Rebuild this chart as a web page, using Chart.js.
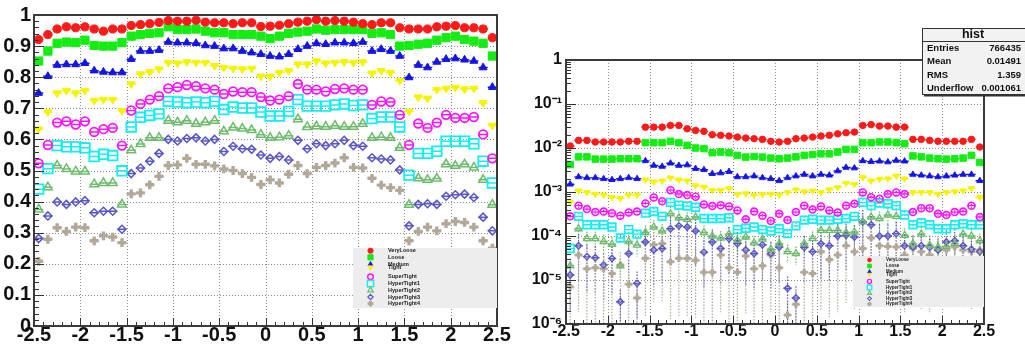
<!DOCTYPE html>
<html>
<head>
<meta charset="utf-8">
<script src="https://cdn.jsdelivr.net/npm/chart.js@4.4.1/dist/chart.umd.min.js"></script>
<style>
  html, body { margin: 0; padding: 0; background: #fff; }
  #wrap { position: relative; width: 1025px; height: 344px; overflow: hidden; }
  #effChart { position: absolute; left: 0; top: 0; }
  #fracChart { position: absolute; left: 520px; top: 0; }
</style>
</head>
<body>
<div id="wrap">
  <canvas id="effChart" width="520" height="344"></canvas>
  <canvas id="fracChart" width="505" height="344"></canvas>
</div>
<script>
// bin centres in eta
const etaBins = [
  -2.45, -2.35, -2.25, -2.15, -2.05, -1.95, -1.85, -1.75, -1.65, -1.55,
  -1.45, -1.35, -1.25, -1.15, -1.05, -0.95, -0.85, -0.75, -0.65, -0.55,
  -0.45, -0.35, -0.25, -0.15, -0.05, 0.05, 0.15, 0.25, 0.35, 0.45,
  0.55, 0.65, 0.75, 0.85, 0.95, 1.05, 1.15, 1.25, 1.35, 1.45,
  1.55, 1.65, 1.75, 1.85, 1.95, 2.05, 2.15, 2.25, 2.35, 2.45
];
const seriesNames = ['VeryLoose', 'Loose', 'Medium', 'Tight', 'SuperTight',
  'HyperTight1', 'HyperTight2', 'HyperTight3', 'HyperTight4'];

const xTicks = [-2.5, -2, -1.5, -1, -0.5, 0, 0.5, 1, 1.5, 2, 2.5];
const xTickLabels = ['-2.5', '-2', '-1.5', '-1', '-0.5', '0', '0.5', '1', '1.5', '2', '2.5'];
const effTicks = [0, 0.1, 0.2, 0.3, 0.4, 0.5, 0.6, 0.7, 0.8, 0.9, 1];
const effTickLabels = ['0', '0.1', '0.2', '0.3', '0.4', '0.5', '0.6', '0.7', '0.8', '0.9', '1'];
const fracTicks = [1e-6, 1e-5, 1e-4, 1e-3, 1e-2, 1e-1, 1];
const fracTickLabels = ['10⁻⁶', '10⁻⁵', '10⁻⁴', '10⁻³', '10⁻²', '10⁻¹', '1'];

const statTitle = 'hist';
const statLabels = ['Entries', 'Mean', 'RMS', 'Underflow'];
const statValues = ['766435', '0.01491', '1.359', '0.001061'];

// left pad: efficiencies
const effVeryLoose = [
  0.921, 0.937, 0.955, 0.962, 0.959, 0.962, 0.955, 0.948, 0.955, 0.955,
  0.966, 0.969, 0.972, 0.976, 0.982, 0.980, 0.980, 0.983, 0.977, 0.975,
  0.975, 0.972, 0.975, 0.975, 0.963, 0.964, 0.967, 0.972, 0.977, 0.980,
  0.985, 0.980, 0.982, 0.980, 0.977, 0.972, 0.969, 0.975, 0.975, 0.959,
  0.955, 0.955, 0.955, 0.962, 0.964, 0.966, 0.959, 0.959, 0.955, 0.927
];
const effLoose = [
  0.852, 0.884, 0.909, 0.913, 0.911, 0.919, 0.902, 0.900, 0.900, 0.911,
  0.932, 0.937, 0.941, 0.943, 0.962, 0.953, 0.953, 0.955, 0.948, 0.943,
  0.943, 0.937, 0.937, 0.937, 0.932, 0.924, 0.932, 0.941, 0.945, 0.948,
  0.955, 0.951, 0.953, 0.953, 0.953, 0.953, 0.941, 0.943, 0.937, 0.900,
  0.902, 0.906, 0.909, 0.919, 0.927, 0.932, 0.921, 0.916, 0.909, 0.868
];
const effMedium = [
  0.749, 0.803, 0.839, 0.841, 0.841, 0.845, 0.821, 0.817, 0.815, 0.815,
  0.858, 0.884, 0.884, 0.887, 0.913, 0.911, 0.911, 0.909, 0.902, 0.900,
  0.892, 0.892, 0.884, 0.879, 0.874, 0.868, 0.866, 0.874, 0.890, 0.900,
  0.909, 0.906, 0.911, 0.911, 0.909, 0.913, 0.884, 0.890, 0.884, 0.868,
  0.799, 0.839, 0.831, 0.849, 0.858, 0.860, 0.856, 0.852, 0.831, 0.768
];
const effTight = [
  0.633, 0.688, 0.749, 0.757, 0.749, 0.757, 0.725, 0.728, 0.728, 0.692,
  0.778, 0.810, 0.817, 0.826, 0.847, 0.845, 0.849, 0.847, 0.847, 0.837,
  0.831, 0.828, 0.826, 0.828, 0.803, 0.803, 0.815, 0.821, 0.842, 0.842,
  0.852, 0.845, 0.847, 0.849, 0.847, 0.849, 0.813, 0.821, 0.815, 0.789,
  0.690, 0.736, 0.732, 0.760, 0.764, 0.767, 0.762, 0.764, 0.718, 0.645
];
const effSuperTight = [
  0.523, 0.582, 0.654, 0.658, 0.648, 0.658, 0.624, 0.633, 0.637, 0.580,
  0.693, 0.714, 0.728, 0.739, 0.764, 0.768, 0.775, 0.771, 0.764, 0.760,
  0.746, 0.754, 0.752, 0.752, 0.736, 0.725, 0.728, 0.739, 0.778, 0.760,
  0.760, 0.754, 0.762, 0.764, 0.760, 0.760, 0.711, 0.722, 0.720, 0.679,
  0.582, 0.651, 0.637, 0.654, 0.679, 0.669, 0.669, 0.672, 0.616, 0.539
];
const effHyperTight1 = [
  0.440, 0.506, 0.580, 0.576, 0.576, 0.573, 0.545, 0.552, 0.548, 0.499,
  0.640, 0.671, 0.677, 0.682, 0.722, 0.720, 0.718, 0.720, 0.718, 0.722,
  0.696, 0.704, 0.701, 0.701, 0.688, 0.675, 0.675, 0.690, 0.728, 0.707,
  0.707, 0.707, 0.711, 0.714, 0.709, 0.711, 0.667, 0.672, 0.672, 0.640,
  0.485, 0.555, 0.555, 0.562, 0.594, 0.594, 0.594, 0.586, 0.530, 0.460
];
const effHyperTight2 = [
  0.375, 0.446, 0.516, 0.505, 0.497, 0.497, 0.456, 0.460, 0.460, 0.391,
  0.565, 0.585, 0.605, 0.605, 0.660, 0.655, 0.660, 0.650, 0.655, 0.660,
  0.626, 0.638, 0.635, 0.630, 0.615, 0.605, 0.607, 0.612, 0.665, 0.640,
  0.642, 0.641, 0.644, 0.641, 0.641, 0.650, 0.605, 0.607, 0.605, 0.573,
  0.390, 0.475, 0.470, 0.474, 0.520, 0.515, 0.520, 0.510, 0.470, 0.390
];
const effHyperTight3 = [
  0.281, 0.354, 0.399, 0.391, 0.399, 0.403, 0.364, 0.369, 0.369, 0.311,
  0.490, 0.508, 0.530, 0.555, 0.600, 0.595, 0.603, 0.605, 0.595, 0.600,
  0.561, 0.578, 0.570, 0.568, 0.550, 0.539, 0.545, 0.534, 0.597, 0.570,
  0.586, 0.580, 0.586, 0.597, 0.580, 0.578, 0.541, 0.537, 0.534, 0.502,
  0.322, 0.391, 0.393, 0.391, 0.417, 0.422, 0.424, 0.413, 0.350, 0.306
];
const effHyperTight4 = [
  0.208, 0.279, 0.316, 0.304, 0.318, 0.316, 0.274, 0.290, 0.286, 0.268,
  0.425, 0.428, 0.454, 0.481, 0.516, 0.518, 0.539, 0.520, 0.520, 0.515,
  0.505, 0.500, 0.490, 0.478, 0.455, 0.470, 0.460, 0.488, 0.516, 0.490,
  0.510, 0.516, 0.524, 0.541, 0.510, 0.508, 0.475, 0.453, 0.445, 0.436,
  0.274, 0.304, 0.318, 0.306, 0.329, 0.336, 0.333, 0.318, 0.274, 0.250
];

// right pad: fractions (log scale)
const fracVeryLoose = [
  0.0111, 0.0149, 0.0149, 0.0137, 0.0137, 0.0137, 0.0137, 0.0142, 0.0142, 0.0298,
  0.0298, 0.0298, 0.0326, 0.0326, 0.0274, 0.0251, 0.0239, 0.0200, 0.0194, 0.0187,
  0.0177, 0.0168, 0.0163, 0.0157, 0.0142, 0.0137, 0.0142, 0.0163, 0.0168, 0.0177,
  0.0187, 0.0194, 0.0210, 0.0222, 0.0230, 0.0326, 0.0340, 0.0315, 0.0315, 0.0298,
  0.0298, 0.0157, 0.0157, 0.0149, 0.0142, 0.0142, 0.0142, 0.0142, 0.0157, 0.0105
];
const fracLoose = [
  0.0042, 0.0063, 0.0063, 0.0056, 0.0056, 0.0056, 0.0057, 0.0057, 0.0057, 0.0132,
  0.0132, 0.0132, 0.0142, 0.0132, 0.0115, 0.0100, 0.0097, 0.0078, 0.0081, 0.0078,
  0.0068, 0.0062, 0.0064, 0.0062, 0.0059, 0.0057, 0.0059, 0.0063, 0.0068, 0.0071,
  0.0074, 0.0074, 0.0081, 0.0093, 0.0093, 0.0132, 0.0132, 0.0137, 0.0137, 0.0132,
  0.0125, 0.0066, 0.0063, 0.0059, 0.0057, 0.0056, 0.0057, 0.0059, 0.0068, 0.0047
];
const fracMedium = [
  0.0015, 0.0022, 0.0021, 0.0021, 0.0020, 0.0019, 0.0020, 0.0021, 0.0020, 0.0051,
  0.0040, 0.0038, 0.0045, 0.0040, 0.0041, 0.0034, 0.0032, 0.0026, 0.0027, 0.0029,
  0.0022, 0.0022, 0.0023, 0.0021, 0.0020, 0.0018, 0.0021, 0.0023, 0.0025, 0.0023,
  0.0025, 0.0024, 0.0030, 0.0036, 0.0035, 0.0051, 0.0049, 0.0050, 0.0048, 0.0052,
  0.0050, 0.0025, 0.0024, 0.0023, 0.0022, 0.0023, 0.0024, 0.0025, 0.0025, 0.0018
];
const fracTight = [
  0.00058, 0.00107, 0.00098, 0.00090, 0.00086, 0.00076, 0.00072, 0.00086, 0.00086, 0.0019,
  0.0017, 0.0018, 0.0021, 0.0019, 0.0018, 0.0014, 0.0013, 0.0011, 0.0011, 0.0012,
  0.00088, 0.00092, 0.00085, 0.00088, 0.00090, 0.00086, 0.00098, 0.00113, 0.00102, 0.00107,
  0.00098, 0.00113, 0.00127, 0.0016, 0.0015, 0.00214, 0.0018, 0.00196, 0.0020, 0.00233,
  0.0020, 0.00098, 0.00098, 0.00098, 0.00090, 0.00098, 0.00102, 0.00107, 0.00121, 0.00076
];
const fracSuperTight = [
  0.00028, 0.00049, 0.00041, 0.00035, 0.00036, 0.00033, 0.00029, 0.00034, 0.00036, 0.00055,
  0.00075, 0.00062, 0.0011, 0.0009, 0.00085, 0.00078, 0.00052, 0.00048, 0.00050, 0.00047,
  0.00038, 0.00024, 0.00036, 0.00029, 0.00022, 0.00032, 0.00023, 0.00035, 0.00049, 0.00040,
  0.00047, 0.00038, 0.00034, 0.00049, 0.00054, 0.00098, 0.00076, 0.00070, 0.00090, 0.00098,
  0.00090, 0.00035, 0.00043, 0.00043, 0.00032, 0.00030, 0.00035, 0.00036, 0.00049, 0.00027
];
const fracHyperTight1 = [
  0.000052, 0.00028, 0.00018, 0.00018, 0.00018, 0.00016, 0.00009, 0.00014, 0.00011, 0.00033,
  0.00036, 0.00028, 0.00058, 0.00050, 0.00048, 0.00045, 0.00025, 0.00025, 0.00025, 0.00026,
  0.00014, 0.00015, 0.00016, 0.00014, 0.00013, 0.000146, 0.000113, 0.00017, 0.00023, 0.00024,
  0.00023, 0.00023, 0.00024, 0.00025, 0.00028, 0.00058, 0.00049, 0.00056, 0.00054, 0.00049,
  0.00030, 0.00018, 0.00020, 0.00018, 0.000146, 0.000146, 0.00018, 0.00019, 0.00018, 0.00018
];
const fracHyperTight2 = [
  0.000021, 0.000146, 0.000087, 0.000087, 0.000075, 0.000065, 0.000021, 0.000075, 0.000062, 0.00012,
  0.00016, 0.00013, 0.00032, 0.00026, 0.00024, 0.00027, 0.00012, 0.00010, 0.00009, 0.00011,
  0.00008, 0.000095, 0.00007, 0.000085, 0.00005, 0.000067, 0.000044, 0.00004, 0.000067, 0.000087,
  0.000134, 0.000134, 0.000134, 0.00012, 0.000123, 0.00021, 0.00027, 0.00025, 0.00030, 0.00028,
  0.000104, 0.000067, 0.00011, 0.000061, 0.000056, 0.000058, 0.000067, 0.00011, 0.00010, 0.000078
];
const fracHyperTight3 = [
  0.000013, 0.00006, 0.000034, 0.000032, 0.000022, 0.000031, 0.0000032, 0.00004, 0.0000084, 0.000073,
  0.000048, 0.000052, 0.000146, 0.00017, 0.00016, 0.00013, 0.000043, 0.000073, 0.000052, 0.000087,
  0.000067, 0.000048, 0.00004, 0.000063, 0.00004, 0.000056, 0.0000065, 0.0000039, 0.000055, 0.000044,
  0.000067, 0.00006, 0.0001, 0.000104, 0.000095, 0.00021, 0.00018, 0.0001, 0.0001, 0.000113,
  0.00006, 0.000056, 0.00006, 0.000055, 0.000048, 0.000073, 0.000078, 0.00006, 0.00005, 0.000044
];
const fracHyperTight4 = [
  0.000007, 0.000037, 0.000018, 0.000019, 0.000018, 0.000014, 0.000022, 0.000008, 0.0000039, 0.000031,
  0.000063, 0.000067, 0.000026, 0.000031, 0.000031, 0.000028, 0.000015, 0.000015, 0.000037, 0.000019,
  0.000015, 0.000035, 0.000018, 0.000021, 0.000037, 0.000019, 0.0000016, 0.0000028, 0.000015, 0.000014,
  0.000044, 0.000029, 0.000037, 0.00006, 0.000044, 0.000052, 0.00009, 0.00006, 0.000058, 0.000056,
  0.000037, 0.000052, 0.000044, 0.000037, 0.000052, 0.000048, 0.000056, 0.000048, 0.000044, 0.000048
];

const effSeries = [effVeryLoose, effLoose, effMedium, effTight, effSuperTight,
  effHyperTight1, effHyperTight2, effHyperTight3, effHyperTight4];
const fracSeries = [fracVeryLoose, fracLoose, fracMedium, fracTight, fracSuperTight,
  fracHyperTight1, fracHyperTight2, fracHyperTight3, fracHyperTight4];

// marker look, ROOT style
const markers = [
  { color: '#ff1a1a', shape: 'circle', r: 4.1, filled: true, lw: 1 },
  { color: '#14ec14', shape: 'rect', r: 5.8, filled: true, lw: 1 },
  { color: '#1414e6', shape: 'triangle', r: 4.5, filled: true, lw: 1 },
  { color: '#f4f400', shape: 'triangle', rot: 180, r: 4.5, filled: true, lw: 1 },
  { color: '#ff14ff', shape: 'circle', r: 4.3, filled: false, lw: 1.8 },
  { color: '#14eeee', shape: 'rect', r: 6.8, filled: false, lw: 1.8 },
  { color: '#6cbc6c', shape: 'triangle', r: 5, filled: false, lw: 1.5 },
  { color: '#5a56c4', shape: 'rectRot', r: 4, filled: false, lw: 1.5 },
  { color: '#b2a898', shape: 'cross', r: 4.4, filled: false, lw: 3.4 }
];
const fracRelErr = [0, 0, 0, 0, 0.1, 0.2, 0.45, 0.85, 0.95];

const FONT = '"Liberation Sans", Arial, Helvetica, sans-serif';

function makeDatasets(series, scale, relErr) {
  return series.map((vals, k) => {
    const m = markers[k];
    return {
      label: seriesNames[k],
      data: vals.map((v, i) => ({ x: etaBins[i], y: v })),
      pointStyle: m.shape,
      pointRotation: m.rot || 0,
      pointRadius: m.r * scale,
      pointBorderWidth: m.lw * (scale < 1 ? 0.9 : 1),
      borderColor: m.color,
      backgroundColor: m.filled ? m.color : 'rgba(0,0,0,0)',
      showLine: false,
      relErr: relErr ? relErr[k] : 0
    };
  });
}

function drawLegend(chart, L) {
  const ctx = chart.ctx;
  ctx.save();
  ctx.fillStyle = '#ededed';
  ctx.fillRect(L.x0, L.y0, L.x1 - L.x0, L.y1 - L.y0);
  chart.data.datasets.forEach((ds, k) => {
    const y = L.rows[k];
    ctx.fillStyle = ds.backgroundColor;
    ctx.strokeStyle = ds.borderColor;
    ctx.lineWidth = ds.pointBorderWidth * 0.8;
    Chart.helpers.drawPoint(ctx, {
      pointStyle: ds.pointStyle, rotation: ds.pointRotation,
      radius: ds.pointRadius * L.markScale, borderWidth: ds.pointBorderWidth * 0.8
    }, L.markX, y);
    ctx.fillStyle = '#1a1a1a';
    ctx.font = L.font;
    ctx.textBaseline = 'middle';
    ctx.textAlign = 'left';
    ctx.fillText(ds.label, L.textX, y);
  });
  ctx.restore();
}

function drawStats(chart, S) {
  const ctx = chart.ctx;
  ctx.save();
  ctx.fillStyle = '#f2f2f2';
  ctx.fillRect(S.x0, S.y0, S.x1 - S.x0, S.y1 - S.y0);
  ctx.strokeStyle = '#333';
  ctx.lineWidth = 1;
  ctx.strokeRect(S.x0 + 0.5, S.y0 + 0.5, S.x1 - S.x0, S.y1 - S.y0);
  ctx.lineWidth = 2;
  ctx.beginPath();
  ctx.moveTo(S.x0 + 2, S.y1 + 1.5); ctx.lineTo(S.x1, S.y1 + 1.5);
  ctx.stroke();
  ctx.lineWidth = 1;
  ctx.beginPath();
  ctx.moveTo(S.x0, S.sepY + 0.5); ctx.lineTo(S.x1, S.sepY + 0.5);
  ctx.stroke();
  ctx.fillStyle = '#111';
  ctx.textBaseline = 'middle';
  ctx.font = 'bold 12.5px ' + FONT;
  ctx.textAlign = 'center';
  ctx.fillText(statTitle, S.titleX, S.titleY);
  ctx.font = 'bold 9.5px ' + FONT;
  statLabels.forEach((lab, i) => {
    ctx.textAlign = 'left';
    ctx.fillText(lab, S.labelX, S.rows[i]);
    ctx.textAlign = 'right';
    ctx.fillText(statValues[i], S.valueX, S.rows[i]);
  });
  ctx.restore();
}

function makePad(cfg) {
  return {
    id: 'rootPad',
    beforeDatasetsDraw(chart) {
      const { ctx, chartArea: a, scales: { x, y } } = chart;
      ctx.save();
      ctx.strokeStyle = '#8c8c8c';
      ctx.lineWidth = 1;
      ctx.setLineDash([1, 2]);
      ctx.beginPath();
      x.ticks.forEach(t => {
        const px = Math.round(x.getPixelForValue(t.value)) + 0.5;
        if (px <= a.left + 2 || px >= a.right - 2) return;
        ctx.moveTo(px, a.top); ctx.lineTo(px, a.bottom);
      });
      y.ticks.forEach(t => {
        const py = Math.round(y.getPixelForValue(t.value)) + 0.5;
        if (py <= a.top + 2 || py >= a.bottom - 2) return;
        ctx.moveTo(a.left, py); ctx.lineTo(a.right, py);
      });
      ctx.stroke();
      // horizontal (bin width) and vertical error bars
      chart.data.datasets.forEach((ds, k) => {
        const meta = chart.getDatasetMeta(k);
        ctx.strokeStyle = ds.borderColor;
        ctx.setLineDash([]);
        ctx.lineWidth = cfg.barWidth;
        ctx.beginPath();
        meta.data.forEach((pt, i) => {
          const d = ds.data[i];
          ctx.moveTo(x.getPixelForValue(d.x - 0.05), pt.y);
          ctx.lineTo(x.getPixelForValue(d.x + 0.05), pt.y);
        });
        ctx.stroke();
        if (ds.relErr > 0) {
          ctx.setLineDash([1.5, 1.5]);
          ctx.lineWidth = 1.2;
          ctx.beginPath();
          meta.data.forEach((pt, i) => {
            const v = ds.data[i].y;
            const lo = v * (1 - ds.relErr);
            const hi = v * (1 + ds.relErr);
            const yLo = lo > y.min ? y.getPixelForValue(lo) : a.bottom;
            ctx.moveTo(pt.x, y.getPixelForValue(hi));
            ctx.lineTo(pt.x, yLo);
          });
          ctx.stroke();
        }
      });
      ctx.restore();
    },
    afterDraw(chart) {
      const { ctx, chartArea: a, scales: { x, y } } = chart;
      ctx.save();
      ctx.strokeStyle = '#333';
      ctx.lineWidth = 1;
      ctx.beginPath();
      for (let i = 0; i <= 50; i++) {
        const px = Math.round(x.getPixelForValue(-2.5 + i * 0.1)) + 0.5;
        const len = i % 5 === 0 ? cfg.majorX : cfg.minorX;
        ctx.moveTo(px, a.bottom); ctx.lineTo(px, a.bottom - len);
      }
      if (cfg.logY) {
        for (let e = -6; e <= 0; e++) {
          for (let m = 1; m < 10; m++) {
            const v = m * Math.pow(10, e);
            if (v > 1.0001) break;
            const py = Math.round(y.getPixelForValue(v)) + 0.5;
            const len = m === 1 ? cfg.majorY : cfg.minorY;
            ctx.moveTo(a.left, py); ctx.lineTo(a.left + len, py);
          }
        }
      } else {
        for (let i = 0; i <= 50; i++) {
          const py = Math.round(y.getPixelForValue(i * 0.02)) + 0.5;
          const len = i % 5 === 0 ? cfg.majorY : cfg.minorY;
          ctx.moveTo(a.left, py); ctx.lineTo(a.left + len, py);
        }
      }
      ctx.stroke();
      ctx.lineWidth = 2;
      ctx.strokeStyle = '#3a3a3a';
      ctx.strokeRect(a.left, a.top, a.right - a.left, a.bottom - a.top);
      ctx.restore();
      if (cfg.legend) drawLegend(chart, cfg.legend);
      if (cfg.stats) drawStats(chart, cfg.stats);
    }
  };
}

function axisFont(size) {
  return { family: FONT, size: size, weight: 'bold' };
}

// left pad
new Chart(document.getElementById('effChart'), {
  type: 'scatter',
  data: { datasets: makeDatasets(effSeries, 1, null) },
  options: {
    responsive: false,
    animation: false,
    events: [],
    layout: { padding: { top: 12, right: 23, bottom: 0, left: 0 } },
    plugins: { legend: { display: false }, tooltip: { enabled: false } },
    scales: {
      x: {
        type: 'linear', min: -2.5, max: 2.5,
        grid: { display: false, drawTicks: false },
        border: { display: false },
        afterFit: s => { s.height = 18; },
        afterBuildTicks: s => { s.ticks = xTicks.map(v => ({ value: v })); },
        ticks: { autoSkip: false, maxRotation: 0, padding: -3, color: '#111', font: axisFont(20),
          callback: (v, i) => xTickLabels[i] }
      },
      y: {
        type: 'linear', min: 0, max: 1,
        grid: { display: false, drawTicks: false },
        border: { display: false },
        afterFit: s => { s.width = 34; },
        afterBuildTicks: s => { s.ticks = effTicks.map(v => ({ value: v })); },
        ticks: { autoSkip: false, padding: 3, color: '#111', font: axisFont(20),
          callback: (v, i) => effTickLabels[i] }
      }
    }
  },
  plugins: [makePad({
    barWidth: 1.5, majorX: 8, minorX: 4, majorY: 10, minorY: 5, logY: false,
    legend: {
      x0: 353, y0: 248, x1: 497, y1: 308, markX: 370.5, textX: 388, markScale: 0.65,
      rows: [250.7, 257.3, 264.3, 267.3, 276.7, 283.7, 290.3, 297, 303.7],
      font: 'bold 5.5px ' + FONT
    }
  })]
});

// right pad
new Chart(document.getElementById('fracChart'), {
  type: 'scatter',
  data: { datasets: makeDatasets(fracSeries, 0.8, fracRelErr) },
  options: {
    responsive: false,
    animation: false,
    events: [],
    layout: { padding: { top: 60, right: 41, bottom: 0, left: 0 } },
    plugins: { legend: { display: false }, tooltip: { enabled: false } },
    scales: {
      x: {
        type: 'linear', min: -2.5, max: 2.5,
        grid: { display: false, drawTicks: false },
        border: { display: false },
        afterFit: s => { s.height = 20; },
        afterBuildTicks: s => { s.ticks = xTicks.map(v => ({ value: v })); },
        ticks: { autoSkip: false, maxRotation: 0, padding: -2, color: '#111', font: axisFont(16),
          callback: (v, i) => xTickLabels[i] }
      },
      y: {
        type: 'logarithmic', min: 1e-6, max: 1,
        grid: { display: false, drawTicks: false },
        border: { display: false },
        afterFit: s => { s.width = 46; },
        afterBuildTicks: s => { s.ticks = fracTicks.map(v => ({ value: v })); },
        ticks: { autoSkip: false, padding: 4, color: '#111', font: axisFont(16),
          callback: (v, i) => fracTickLabels[i] }
      }
    }
  },
  plugins: [makePad({
    barWidth: 1.3, majorX: 8, minorX: 4, majorY: 10, minorY: 5, logY: true,
    legend: {
      x0: 333, y0: 256, x1: 464, y1: 307, markX: 349.5, textX: 366, markScale: 0.6,
      rows: [260, 266, 271.7, 274.5, 281.5, 287.5, 293.2, 298.6, 304],
      font: 'bold 4.5px ' + FONT
    },
    stats: {
      x0: 402, y0: 28, x1: 510, y1: 94, sepY: 41,
      titleX: 453, titleY: 35, labelX: 407, valueX: 501,
      rows: [48.5, 61.7, 75, 88.3]
    }
  })]
});
</script>
</body>
</html>
